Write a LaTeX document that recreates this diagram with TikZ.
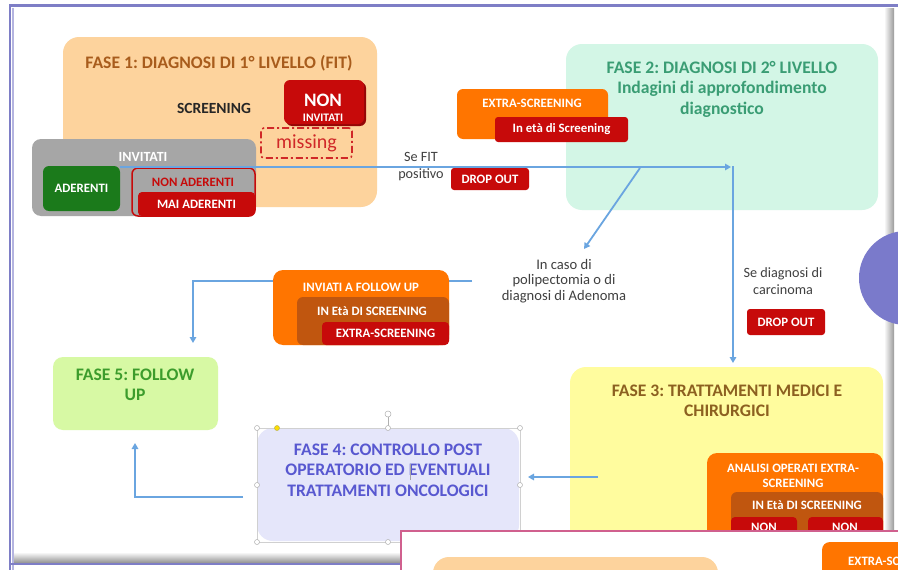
\documentclass[tikz,border=0pt]{standalone}
\usepackage{fontspec}
\setmainfont{Carlito}
\frenchspacing
\usetikzlibrary{arrows.meta}
\definecolor{framec}{HTML}{7E7EC6}
\definecolor{framelt}{HTML}{B4B4E0}
\definecolor{shadowc}{HTML}{9A9A9A}
\definecolor{fase1c}{HTML}{FDD39D}
\definecolor{fase1t}{HTML}{A85C1C}
\definecolor{redc}{HTML}{C70A0A}
\definecolor{redt}{HTML}{D02828}
\definecolor{grayc}{HTML}{A6A6A6}
\definecolor{greenc}{HTML}{1B7A1B}
\definecolor{orangec}{HTML}{FF7500}
\definecolor{brownc}{HTML}{C0560F}
\definecolor{mintc}{HTML}{D3F6E6}
\definecolor{mintt}{HTML}{3A9D74}
\definecolor{yellowc}{HTML}{FFFC9E}
\definecolor{yellowt}{HTML}{8C6020}
\definecolor{lavc}{HTML}{E5E6FA}
\definecolor{lavt}{HTML}{5858D0}
\definecolor{limec}{HTML}{D7F9A4}
\definecolor{limet}{HTML}{3C9C2C}
\definecolor{arrowc}{HTML}{6AA5E0}
\definecolor{darktxt}{HTML}{404040}
\definecolor{pinkc}{HTML}{D0608E}
\definecolor{circlec}{HTML}{7A7ACB}
\definecolor{handlec}{HTML}{B0B0B0}
\begin{document}
\begin{tikzpicture}[x=1pt,y=-1pt,
  blk/.style={draw=none, anchor=north west, inner sep=0pt, outer sep=0pt},
  ttl/.style={font=\bfseries\fontsize{17.6}{20.5}\selectfont, align=center, inner sep=0pt},
  lbl/.style={font=\bfseries\fontsize{12.8}{15.5}\selectfont, text=white, align=center, inner sep=0pt},
  note/.style={font=\fontsize{14.2}{17}\selectfont, text=darktxt, align=center, inner sep=0pt},
  arr/.style={draw=arrowc, line width=1.8pt, -{Triangle[length=6pt,width=6.5pt]}},
  handle/.style={circle, draw=handlec, fill=white, line width=0.5pt, inner sep=0pt, minimum size=5pt}
]
\useasboundingbox (0,0) rectangle (898,570);
\clip (0,0) rectangle (898,570);
\fill[white] (0,0) rectangle (898,570);

% slide frame
\shade[top color=white, bottom color=shadowc] (12,552) rectangle (898,562);
\shade[left color=white, right color=shadowc] (884,8) rectangle (894,562);
\draw[framec, line width=2.4pt] (9,5.5) -- (898,5.5);
\draw[framec, line width=2.6pt] (10,5) -- (10,570);
\draw[framelt, line width=1.4pt] (13,8) -- (13,570);
\draw[framec, line width=2.6pt] (10,564) -- (898,564);

% side circle of the next element
\fill[circlec] (906,278) circle (47);

% phase 1
\node[blk, fill=fase1c, rounded corners=16pt, minimum width=314pt, minimum height=170pt] (fase1) at (63,37) {};
\node[ttl, text=fase1t] (f1title) at (219,63) {FASE 1: DIAGNOSI DI 1° LIVELLO (FIT)};
\node[font=\bfseries\fontsize{15.5}{18}\selectfont, text=black!85, inner sep=0pt] (screening) at (214,108) {SCREENING};
\fill[redc!75!black, rounded corners=6pt] (286,82) rectangle (366,126);
\node[blk, fill=redc, rounded corners=6pt, minimum width=80pt, minimum height=44pt] (noninv) at (284,80) {};
\node[lbl, font=\bfseries\fontsize{19}{21}\selectfont] (nonA) at (323,100) {NON};
\node[lbl, font=\bfseries\fontsize{11.5}{13}\selectfont] (nonB) at (323,118) {INVITATI};
\node[blk, draw=redt, line width=1.6pt, dash pattern=on 7pt off 3pt on 2pt off 3pt, rounded corners=3pt,
      minimum width=91pt, minimum height=30pt] (missing) at (261,128) {};
\node[font=\fontsize{20}{22}\selectfont, text=redt, inner sep=0pt] at (missing.center) {missing};

% invited people
\node[blk, fill=grayc, rounded corners=9pt, minimum width=224pt, minimum height=77pt] (invitati) at (32,139) {};
\node[lbl, font=\bfseries\fontsize{14}{16}\selectfont] (invT) at (143,157) {INVITATI};
\node[blk, fill=greenc, rounded corners=6pt, minimum width=77pt, minimum height=45pt] (aderenti) at (43,166) {};
\node[lbl] at (aderenti.center) {ADERENTI};
\node[blk, fill=grayc, draw=redc, line width=1.5pt, rounded corners=6pt, minimum width=123pt, minimum height=48pt] (nonader) at (132,168) {};
\node[lbl, text=redc] (nonaderT) at (193,182) {NON ADERENTI};
\node[blk, fill=redc, rounded corners=4pt, minimum width=117pt, minimum height=24pt] (maiader) at (138,192) {};
\node[lbl] at (maiader.center) {MAI ADERENTI};

% phase 2
\node[blk, fill=mintc, rounded corners=16pt, minimum width=312pt, minimum height=166pt] (fase2) at (566,44) {};
\node[ttl, text=mintt] (f2title) at (722,89) {FASE 2: DIAGNOSI DI 2° LIVELLO\\Indagini di approfondimento\\diagnostico};
\node[blk, fill=orangec, rounded corners=6pt, minimum width=151pt, minimum height=50pt] (extrascr) at (457,89) {};
\node[lbl] at (532,103) {EXTRA-SCREENING};
\node[blk, fill=redc, rounded corners=3pt, minimum width=133pt, minimum height=25pt] (ineta) at (495,117) {};
\node[lbl] at (ineta.center) {In età di Screening};

% positive test and drop out
\node[note] (sefit) at (421,167) {Se FIT\\positivo};
\node[blk, fill=redc, rounded corners=3pt, minimum width=78pt, minimum height=22pt] (drop1) at (451,168) {};
\node[lbl] at (drop1.center) {DROP OUT};

% adenoma branch
\node[note, font=\fontsize{14.6}{15.8}\selectfont] (caso) at (564,281) {In caso di\\polipectomia o di\\diagnosi di Adenoma};
\coordinate (fuA) at (472,281);
\coordinate (fuB) at (193,343);
\draw[arr] (fuA) -| (fuB);
\node[blk, fill=orangec, rounded corners=10pt, minimum width=176pt, minimum height=75pt] (inviati) at (273,270) {};
\node[lbl] at (361,287) {INVIATI A FOLLOW UP};
\node[blk, fill=brownc, rounded corners=6pt, minimum width=152pt, minimum height=48pt] (ineta2) at (297,297) {};
\node[lbl] at (372,311) {IN Età DI SCREENING};
\node[blk, fill=redc, rounded corners=4pt, minimum width=127pt, minimum height=23pt] (extra2) at (322,322) {};
\node[lbl] at (extra2.center) {EXTRA-SCREENING};

% carcinoma branch
\node[note] (carc) at (783,281) {Se diagnosi di\\carcinoma};
\node[blk, fill=redc, rounded corners=3pt, minimum width=78pt, minimum height=26pt] (drop2) at (747,309) {};
\node[lbl] at (drop2.center) {DROP OUT};

% phase 5
\node[blk, fill=limec, rounded corners=10pt, minimum width=165pt, minimum height=73pt] (fase5) at (53,357) {};
\node[ttl, text=limet] (f5title) at (135,385) {FASE 5: FOLLOW\\UP};

% phase 3
\node[blk, fill=yellowc, rounded corners=16pt, minimum width=313pt, minimum height=200pt] (fase3) at (570,367) {};
\node[ttl, text=yellowt] (f3title) at (727,401) {FASE 3: TRATTAMENTI MEDICI E\\CHIRURGICI};
\node[blk, fill=orangec, rounded corners=10pt, minimum width=176pt, minimum height=100pt] (analisi) at (707,453) {};
\node[lbl] at (793,476) {ANALISI OPERATI EXTRA-\\SCREENING};
\node[blk, fill=brownc, rounded corners=6pt, minimum width=152pt, minimum height=60pt] (ineta3) at (731,492) {};
\node[lbl] at (807,505) {IN Età DI SCREENING};
\node[blk, fill=redc, rounded corners=4pt, minimum width=66pt, minimum height=30pt] (nonL) at (731,517) {};
\node[blk, fill=redc, rounded corners=4pt, minimum width=75pt, minimum height=30pt] (nonR) at (808,517) {};
\node[lbl, anchor=north] at (764,523) {NON};
\node[lbl, anchor=north] at (845,523) {NON};

% phase 4 with its selection frame
\node[blk, fill=lavc, rounded corners=16pt, minimum width=262pt, minimum height=113pt] (fase4) at (257,428) {};
\node[ttl, text=lavt] (f4title) at (388,470) {FASE 4: CONTROLLO POST\\OPERATORIO ED EVENTUALI\\TRATTAMENTI ONCOLOGICI};
\draw[handlec!60, line width=0.4pt] (257,428) rectangle (520,542);
\draw[gray!70, line width=0.6pt] (410,464) -- (410,480);
\draw[handlec, line width=0.5pt] (388,417) -- (388,428);
\node[handle, minimum size=6pt] (rot) at (388,414) {};
\foreach \hx/\hy in {257/428, 388/428, 520/428, 257/485, 520/485, 257/542, 388/542, 520/542}
  \node[handle] at (\hx,\hy) {};
\node[handle, fill=yellow!80!orange, draw=olive!60] (adj) at (277,428) {};

% connectors
\coordinate (fitA) at (120,167);
\coordinate (fitB) at (731,167);
\coordinate (splitT) at (733,166);
\coordinate (diagA) at (640,168);
\coordinate (diagB) at (584,249);
\coordinate (f3out) at (598,477);
\coordinate (f4in) at (528,477);
\coordinate (f4out) at (243,497);
\coordinate (f5in) at (135,443);
\draw[arr] (fitA) -- (fitB);
\draw[arr, shorten >=4pt] (splitT) -- (splitT |- fase3.north);
\draw[arr] (diagA) -- (diagB);
\draw[arr] (f3out) -- (f4in);
\draw[arr] (f4out) -| (f5in);

% next slide window on top
\fill[white] (400,531) rectangle (910,580);
\node[blk, fill=fase1c, rounded corners=16pt, minimum width=285pt, minimum height=60pt] (nextA) at (433,557) {};
\node[blk, fill=orangec, rounded corners=8pt, minimum width=100pt, minimum height=60pt] (nextB) at (822,542) {};
\node[lbl, anchor=west] at (848,561) {EXTRA-SCREENING};
\draw[pinkc, line width=2pt] (401,580) -- (401,531) -- (910,531);
\end{tikzpicture}
\end{document}
